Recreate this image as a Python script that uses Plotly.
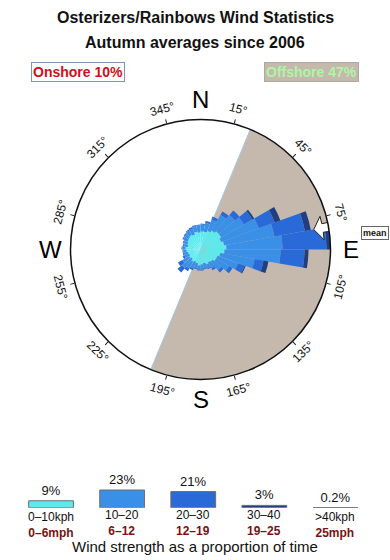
import math
import plotly.graph_objects as go

# ---------------- data ----------------
directions = [5 + 10 * i for i in range(36)]  # bin centres (degrees, bearing)
speed_0_10 = [18, 18, 20, 22, 24, 24, 22, 24, 26, 24, 20, 18, 18, 16, 15, 16, 14, 15,
              16, 14, 13, 14, 12, 13, 12, 13, 14, 15, 13, 14, 15, 16, 17, 16, 18, 17]
speed_10_20 = [7, 9, 12, 18, 21, 26, 40, 51, 56, 56, 35, 22, 15, 11, 7, 4, 5, 5,
               4, 5, 7, 8, 12, 8, 5, 4, 3, 3, 4, 4, 5, 5, 5, 6, 6, 7]
speed_20_30 = [1, 2, 3, 4, 6, 10, 17, 31, 44, 24, 9, 7, 4, 3, 2, 1, 1, 1,
               1, 1, 2, 3, 6, 5, 2, 1, 1, 1, 1, 1, 1, 1, 1, 2, 1, 1]
speed_30_40 = [0, 0, 0, 0, 0, 2, 6, 6, 4, 4, 5, 1, 0, 0, 0, 0, 0, 0,
               0, 0, 0, 0, 0, 0, 0, 0, 0, 0, 0, 0, 0, 0, 0, 0, 0, 0]

offshore_start = 22.5
offshore_end = 202.5
mean_direction = 80
onshore_pct = 10
offshore_pct = 47

angle_ticks = [15, 45, 75, 105, 135, 165, 195, 225, 255, 285, 315, 345]
cardinals = ["N", "E", "S", "W"]
cardinal_angles = [0, 90, 180, 270]

legend_pcts = [9, 23, 21, 3, 0.2]
legend_pct_text = ["9%", "23%", "21%", "3%", "0.2%"]
legend_kph = ["0\u201310kph", "10\u201320", "20\u201330", "30\u201340", ">40kph"]
legend_mph = ["0\u20136mph", "6\u201312", "12\u201319", "19\u201325", "25mph"]

# ---------------- styling ----------------
W, H = 390, 560
CX, CY, R = 200.5, 249.5, 130.0
RMAX = 130.0
FONT = "Liberation Sans, Arial, Helvetica, sans-serif"
layer_colors = ["#5ceaee", "#3a8fe6", "#2a6ad8", "#213f80"]
legend_colors = ["#5ceaee", "#3a8fe6", "#2a6ad8", "#213f80", "#9a9a9a"]
LEG_X0, LEG_X1 = 15.5, 371.0


def to_paper(bearing, r_px):
    b = math.radians(bearing)
    x = CX + r_px * math.sin(b)
    y = CY - r_px * math.cos(b)
    return x / W, 1 - y / H


def ann(text, xpx, ypx, size, color="#111", **kw):
    d = dict(text=text, x=xpx / W, y=1 - ypx / H, xref="paper", yref="paper",
             xanchor="center", yanchor="middle", showarrow=False,
             font=dict(size=size, color=color))
    d.update(kw)
    return d


fig = go.Figure()

# offshore sector
fig.add_trace(go.Barpolar(
    r=[RMAX], theta=[(offshore_start + offshore_end) / 2],
    width=[offshore_end - offshore_start],
    marker=dict(color="#c4b9ac", line=dict(color="#9ec8f0", width=1)),
    hoverinfo="skip", showlegend=False))

# stacked rose
layers = [speed_0_10, speed_10_20, speed_20_30, speed_30_40]
base = [0] * len(directions)
for vals, col in zip(layers, layer_colors):
    fig.add_trace(go.Barpolar(
        r=vals, theta=directions, base=list(base), width=[10] * len(directions),
        marker=dict(color=col, line=dict(width=0)),
        showlegend=False))
    base = [b + v for b, v in zip(base, vals)]

# mean arrow
md = mean_direction
arrow_r = [115, 124, 124, 131, 131, 124, 124, 115]
arrow_t = [md, md - 5.5, md - 2, md - 2, md + 2, md + 2, md + 5.5, md]
fig.add_trace(go.Scatterpolar(
    r=arrow_r, theta=arrow_t, mode="lines", fill="toself",
    fillcolor="white", line=dict(color="#222", width=1),
    hoverinfo="skip", showlegend=False))

dx0, dx1 = (CX - R) / W, (CX + R) / W
dy0, dy1 = 1 - (CY + R) / H, 1 - (CY - R) / H

fig.update_layout(
    width=W, height=H, margin=dict(l=0, r=0, t=0, b=0),
    paper_bgcolor="white", plot_bgcolor="white",
    font=dict(family=FONT, color="#111"),
    polar=dict(
        domain=dict(x=[dx0, dx1], y=[dy0, dy1]),
        bgcolor="white", barmode="overlay", bargap=0,
        radialaxis=dict(visible=False, range=[0, RMAX]),
        angularaxis=dict(rotation=90, direction="clockwise",
                         tickmode="array", tickvals=angle_ticks,
                         showticklabels=False, ticks="outside", ticklen=4,
                         tickcolor="#222", tickwidth=1,
                         showgrid=False, showline=True,
                         linecolor="#111", linewidth=1.5),
    ),
)

annotations = []
# titles
annotations.append(ann("<b>Osterizers/Rainbows Wind Statistics</b>", 195, 17, 16))
annotations.append(ann("<b>Autumn averages since 2006</b>", 195, 42.5, 16))
# onshore / offshore boxes
annotations.append(ann(f"<b>Onshore {onshore_pct}%</b>", 77.5, 71.5, 14, "#cc1020",
                       bgcolor="white", bordercolor="#7f93b5", borderwidth=1, borderpad=1))
annotations.append(ann(f"<b>Offshore {offshore_pct}%</b>", 311.5, 71.5, 14, "#aef5a4",
                       bgcolor="#c4b9ac", bordercolor="#b0a89e", borderwidth=1, borderpad=1))
# cardinal letters
for lab, ang in zip(cardinals, cardinal_angles):
    x, y = to_paper(ang, 150)
    annotations.append(dict(text=lab, x=x, y=y, xref="paper", yref="paper",
                            xanchor="center", yanchor="middle",
                            showarrow=False, font=dict(size=24, color="#000")))
# angle labels
for a in angle_ticks:
    x, y = to_paper(a, 145)
    rot = ((a + 90) % 180) - 90
    annotations.append(dict(text=f"{a}\u00b0", x=x, y=y, xref="paper", yref="paper",
                            xanchor="center", yanchor="middle",
                            showarrow=False, textangle=rot,
                            font=dict(size=12, color="#111")))
# mean label
annotations.append(ann("<b>mean</b>", 375, 233.5, 9,
                       bgcolor="white", bordercolor="#666", borderwidth=1, borderpad=1))
# legend speed labels (two lines under each bar)
n = len(legend_pcts)
slot = (LEG_X1 - LEG_X0) / n
for i, (k, m) in enumerate(zip(legend_kph, legend_mph)):
    xc = LEG_X0 + slot * (i + 0.5)
    is_end = i in (0, n - 1)
    annotations.append(ann(f"{k}<br><span style='color:#7a1212'><b>{m}</b></span>",
                           xc, 524.5 if is_end else 522.5, 12, "#111"))
# legend caption
annotations.append(ann("Wind strength as a proportion of time", 195, 546.5, 15))

# legend bar chart
fig.add_trace(go.Bar(
    x=list(range(n)), y=legend_pcts, width=0.63,
    marker=dict(color=legend_colors, line=dict(color="#6e6e6e", width=1)),
    text=legend_pct_text, textposition="outside", cliponaxis=False,
    textfont=dict(size=13, color="#111"),
    xaxis="x", yaxis="y", showlegend=False, hoverinfo="skip"))

fig.update_layout(
    xaxis=dict(domain=[LEG_X0 / W, LEG_X1 / W], range=[-0.5, n - 0.5],
               showticklabels=False, showgrid=False, zeroline=False, showline=False,
               ticks="", fixedrange=True),
    yaxis=dict(domain=[1 - 507.7 / H, 1 - 467.7 / H], range=[0, 52], visible=False,
               fixedrange=True),
    annotations=annotations,
)

fig.write_html("out.html")
